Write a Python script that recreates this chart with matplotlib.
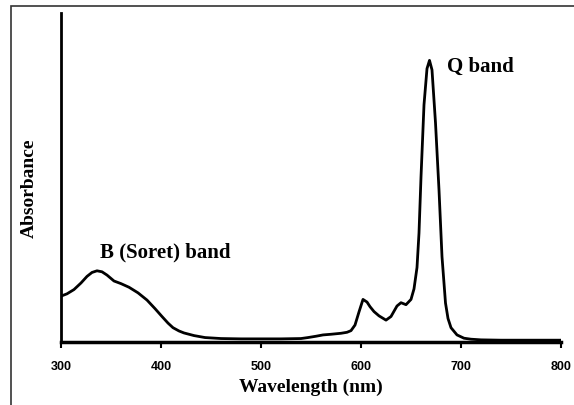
import matplotlib
matplotlib.use('Agg')
import matplotlib.pyplot as plt
from matplotlib.patches import Rectangle

# UV-Vis absorbance spectrum (arbitrary units)
wavelength = [300, 306, 313, 320, 326, 331, 336, 341, 346, 353, 360, 368, 377, 386,
              394, 401, 407, 412, 418, 423, 433, 444, 460, 480, 500, 520, 540, 547,
              555, 562, 570, 580, 586, 590, 594, 598, 602, 606, 609, 613, 618, 625,
              630, 636, 640, 645, 650, 653, 656, 658, 660, 663, 666, 668.5, 671,
              674.5, 678, 681, 684.5, 687, 690, 696, 703, 710, 720, 740, 760, 780, 800]
absorbance = [0.138, 0.145, 0.158, 0.178, 0.198, 0.21, 0.215, 0.212, 0.202, 0.184, 0.176,
              0.165, 0.148, 0.126, 0.1, 0.076, 0.056, 0.042, 0.032, 0.026, 0.018, 0.012,
              0.009, 0.008, 0.008, 0.008, 0.009, 0.012, 0.016, 0.02, 0.022, 0.025, 0.028,
              0.033, 0.05, 0.09, 0.128, 0.12, 0.106, 0.091, 0.078, 0.065, 0.076, 0.108,
              0.118, 0.112, 0.128, 0.16, 0.225, 0.33, 0.5, 0.72, 0.83, 0.855, 0.826,
              0.665, 0.461, 0.258, 0.117, 0.07, 0.042, 0.02, 0.01, 0.007, 0.005, 0.004,
              0.004, 0.004, 0.004]
x_ticks = [300, 400, 500, 600, 700, 800]

fig = plt.figure(figsize=(5.74, 4.05), dpi=100)

# thin frame around the figure (only left and top edges fall inside the picture)
fig.patches.append(Rectangle((11 / 574, -0.1), 1.2, (405 - 6) / 405 + 0.1,
                             transform=fig.transFigure, fill=False,
                             ec='#333333', lw=1.2))

ax = fig.add_axes([61 / 574, (405 - 341.5) / 405, 500 / 574, 328.8 / 405])
ax.plot(wavelength, absorbance, color='black', lw=2)
ax.set_xlim(300, 800)
ax.set_ylim(0, 1)

ax.spines['top'].set_visible(False)
ax.spines['right'].set_visible(False)
ax.spines['left'].set_linewidth(2)
ax.spines['bottom'].set_linewidth(2.5)
ax.set_yticks([])
ax.set_xticks(x_ticks)
ax.tick_params(axis='x', direction='out', length=4, width=1.5, pad=10)
for lab in ax.get_xticklabels():
    lab.set_family(['Liberation Sans Narrow', 'Liberation Sans'])
    lab.set_fontweight('bold')
    lab.set_fontsize(9)

serif = 'Liberation Serif'
ax.set_xlabel('Wavelength (nm)', family=serif, fontweight='bold', fontsize=14, labelpad=4)
ax.set_ylabel('Absorbance', family=serif, fontweight='bold', fontsize=14)
ax.yaxis.set_label_coords(-0.046, 0.465)

ax.text(686, 0.835, 'Q band', family=serif, fontweight='bold', fontsize=15,
        ha='left', va='center')
ax.text(339, 0.27, 'B (Soret) band', family=serif, fontweight='bold', fontsize=15,
        ha='left', va='center')

plt.savefig('out.png', dpi=100)
